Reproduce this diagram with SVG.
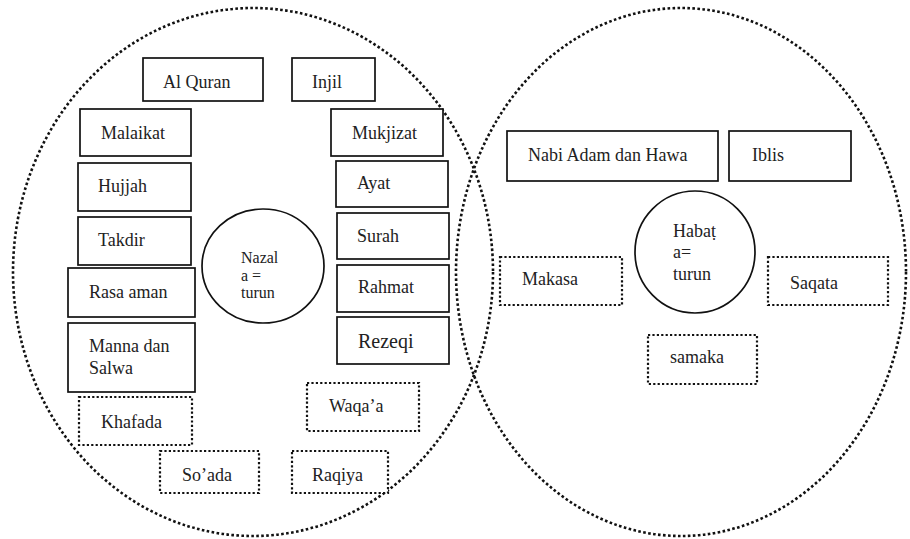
<svg xmlns="http://www.w3.org/2000/svg" width="910" height="539" viewBox="0 0 910 539">
<style>
text{font-family:"Liberation Serif","Times New Roman",serif;font-size:18px;fill:#222}
.small{font-size:16px}
.box{fill:#fff;stroke:#111;stroke-width:1.7}
.dbox{fill:#fff;stroke:#111;stroke-width:2.2;stroke-dasharray:2.2 2.2}
.big{fill:none;stroke:#111;stroke-width:2.6;stroke-dasharray:2.6 2.4}
.ring{fill:#fff;stroke:#111;stroke-width:1.7}
</style>
<rect width="910" height="539" fill="#fff"/>
<g id="set-left"><ellipse class="big" cx="253" cy="272" rx="240" ry="264"/></g>
<g id="set-right"><ellipse class="big" cx="681" cy="272" rx="225" ry="264"/></g>
<g id="connectors"/>
<g id="al-quran"><rect class="box" x="143" y="58" width="120" height="43"/><text x="163" y="88">Al Quran</text></g>
<g id="injil"><rect class="box" x="292" y="58" width="83" height="43"/><text x="312" y="88">Injil</text></g>
<g id="malaikat"><rect class="box" x="80" y="109" width="111" height="47"/><text x="101" y="139">Malaikat</text></g>
<g id="mukjizat"><rect class="box" x="331" y="109" width="112" height="47"/><text x="352" y="139">Mukjizat</text></g>
<g id="hujjah"><rect class="box" x="78" y="163" width="113" height="48"/><text x="98" y="192">Hujjah</text></g>
<g id="ayat"><rect class="box" x="336" y="161" width="112" height="46"/><text x="357" y="189">Ayat</text></g>
<g id="takdir"><rect class="box" x="78" y="217" width="113" height="48"/><text x="98" y="246">Takdir</text></g>
<g id="surah"><rect class="box" x="337" y="213" width="112" height="46"/><text x="357" y="242">Surah</text></g>
<g id="rasa-aman"><rect class="box" x="68" y="268" width="127" height="49"/><text x="89" y="298">Rasa aman</text></g>
<g id="rahmat"><rect class="box" x="337" y="265" width="112" height="47"/><text x="358" y="293">Rahmat</text></g>
<g id="manna-salwa"><rect class="box" x="68" y="323" width="127" height="69"/><text x="89" y="352">Manna dan</text><text x="89" y="374">Salwa</text></g>
<g id="rezeqi"><rect class="box" x="337" y="317" width="112" height="47"/><text x="358" y="348" style="font-size:20px">Rezeqi</text></g>
<g id="khafada"><rect class="dbox" x="79" y="397" width="113" height="48"/><text x="101" y="428">Khafada</text></g>
<g id="waqaa"><rect class="dbox" x="307" y="383" width="112" height="48"/><text x="329" y="412">Waqa’a</text></g>
<g id="soada"><rect class="dbox" x="160" y="451" width="99" height="42"/><text x="182" y="481">So’ada</text></g>
<g id="raqiya"><rect class="dbox" x="292" y="451" width="96" height="42"/><text x="312" y="481">Raqiya</text></g>
<g id="nazala"><ellipse class="ring" cx="263" cy="266" rx="61" ry="57"/><text class="small" x="241" y="263">Nazal</text><text class="small" x="241" y="280.5">a =</text><text class="small" x="241" y="298">turun</text></g>
<g id="nabi-adam-hawa"><rect class="box" x="507" y="131" width="211" height="50"/><text x="528" y="161">Nabi Adam dan Hawa</text></g>
<g id="iblis"><rect class="box" x="729" y="131" width="122" height="50"/><text x="752" y="161">Iblis</text></g>
<g id="habata"><ellipse class="ring" cx="695" cy="252" rx="60" ry="61"/><text x="673" y="237">Habaṭ</text><text x="673" y="258">a=</text><text x="673" y="280">turun</text></g>
<g id="makasa"><rect class="dbox" x="500" y="257" width="122" height="48"/><text x="522" y="285">Makasa</text></g>
<g id="saqata"><rect class="dbox" x="768" y="257" width="120" height="48"/><text x="790" y="289">Saqata</text></g>
<g id="samaka"><rect class="dbox" x="648" y="335" width="109" height="49"/><text x="670" y="363">samaka</text></g>
</svg>
